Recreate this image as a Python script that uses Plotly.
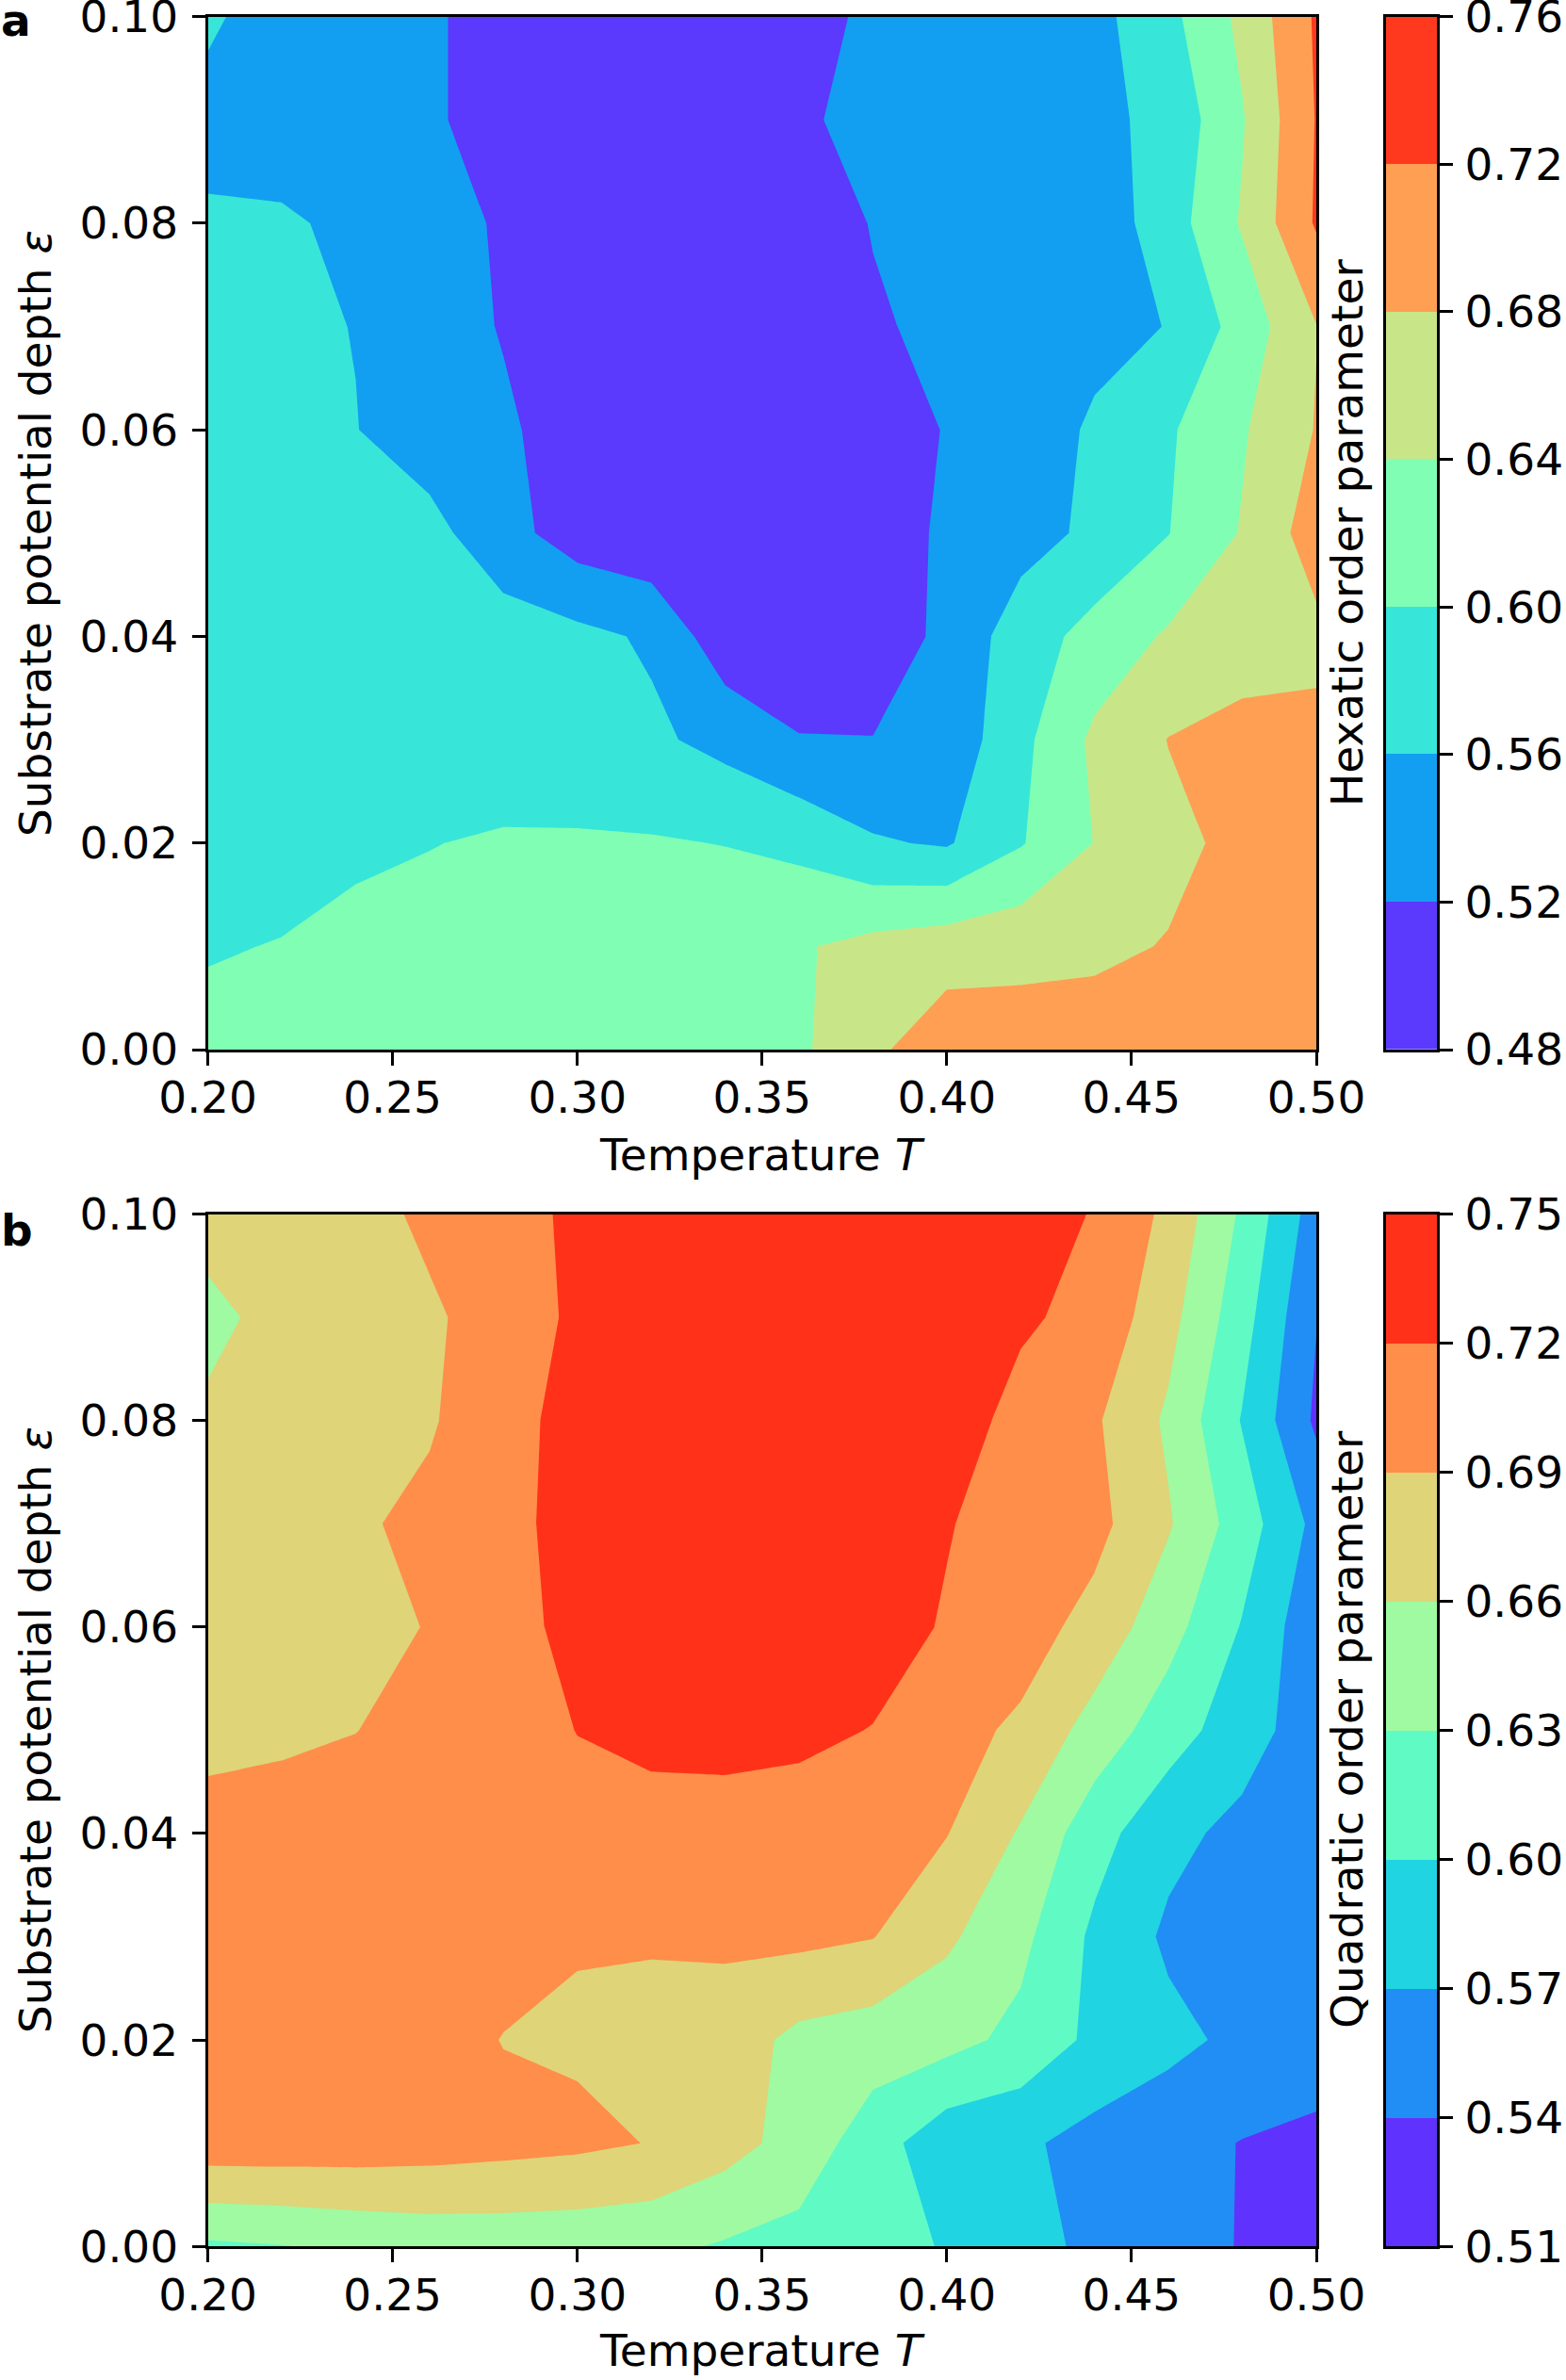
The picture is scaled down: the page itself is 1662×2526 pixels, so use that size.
import plotly.graph_objects as go

# grid: temperature T (columns) and substrate depth eps (rows)
temperature = [0.20, 0.22, 0.24, 0.26, 0.28, 0.30, 0.32, 0.34,
               0.36, 0.38, 0.40, 0.42, 0.44, 0.46, 0.48, 0.50]
epsilon = [0.00, 0.01, 0.02, 0.03, 0.04, 0.05, 0.06, 0.07, 0.08, 0.09, 0.10]

# panel a: hexatic order parameter (one row per epsilon)
hexatic = [
    [0.608, 0.612, 0.618, 0.622, 0.625, 0.628, 0.632, 0.635, 0.633, 0.672, 0.705, 0.700, 0.700, 0.700, 0.700, 0.705],
    [0.598, 0.601, 0.606, 0.612, 0.618, 0.620, 0.622, 0.628, 0.636, 0.652, 0.662, 0.668, 0.672, 0.682, 0.695, 0.700],
    [0.585, 0.590, 0.596, 0.599, 0.604, 0.605, 0.603, 0.599, 0.590, 0.564, 0.556, 0.597, 0.641, 0.670, 0.690, 0.700],
    [0.590, 0.588, 0.585, 0.582, 0.578, 0.570, 0.567, 0.548, 0.522, 0.521, 0.533, 0.589, 0.648, 0.681, 0.690, 0.690],
    [0.588, 0.585, 0.583, 0.580, 0.578, 0.570, 0.555, 0.495, 0.490, 0.495, 0.530, 0.580, 0.614, 0.645, 0.665, 0.670],
    [0.585, 0.580, 0.575, 0.572, 0.535, 0.500, 0.488, 0.482, 0.485, 0.495, 0.528, 0.545, 0.568, 0.599, 0.643, 0.700],
    [0.580, 0.570, 0.561, 0.540, 0.525, 0.505, 0.490, 0.485, 0.488, 0.500, 0.522, 0.540, 0.565, 0.595, 0.636, 0.682],
    [0.575, 0.568, 0.559, 0.535, 0.518, 0.500, 0.488, 0.485, 0.490, 0.515, 0.530, 0.540, 0.550, 0.561, 0.616, 0.679],
    [0.564, 0.565, 0.552, 0.530, 0.517, 0.500, 0.490, 0.488, 0.495, 0.522, 0.535, 0.540, 0.535, 0.581, 0.644, 0.724],
    [0.550, 0.540, 0.535, 0.525, 0.505, 0.490, 0.485, 0.490, 0.515, 0.530, 0.540, 0.545, 0.550, 0.571, 0.637, 0.722],
    [0.565, 0.545, 0.535, 0.525, 0.505, 0.495, 0.490, 0.495, 0.510, 0.525, 0.535, 0.545, 0.548, 0.589, 0.650, 0.725],
]

# panel b: quadratic order parameter
quadratic = [
    [0.625, 0.629, 0.635, 0.640, 0.641, 0.640, 0.637, 0.627, 0.620, 0.605, 0.599, 0.578, 0.565, 0.555, 0.538, 0.525],
    [0.708, 0.708, 0.707, 0.704, 0.700, 0.696, 0.689, 0.672, 0.648, 0.614, 0.580, 0.575, 0.560, 0.550, 0.539, 0.532],
    [0.705, 0.706, 0.706, 0.704, 0.689, 0.686, 0.676, 0.676, 0.652, 0.645, 0.640, 0.622, 0.593, 0.578, 0.563, 0.558],
    [0.705, 0.708, 0.710, 0.708, 0.703, 0.692, 0.694, 0.695, 0.697, 0.691, 0.665, 0.638, 0.594, 0.565, 0.556, 0.552],
    [0.700, 0.702, 0.705, 0.707, 0.709, 0.711, 0.708, 0.707, 0.705, 0.700, 0.691, 0.657, 0.612, 0.578, 0.562, 0.555],
    [0.682, 0.685, 0.6895, 0.700, 0.708, 0.7205, 0.728, 0.730, 0.727, 0.719, 0.700, 0.685, 0.648, 0.614, 0.583, 0.554],
    [0.675, 0.678, 0.683, 0.691, 0.710, 0.728, 0.740, 0.743, 0.742, 0.735, 0.717, 0.703, 0.680, 0.641, 0.598, 0.549],
    [0.675, 0.680, 0.686, 0.697, 0.712, 0.730, 0.740, 0.745, 0.745, 0.742, 0.722, 0.705, 0.699, 0.663, 0.615, 0.562],
    [0.668, 0.676, 0.682, 0.687, 0.710, 0.730, 0.740, 0.745, 0.743, 0.740, 0.734, 0.711, 0.694, 0.655, 0.598, 0.535],
    [0.648, 0.675, 0.677, 0.685, 0.705, 0.725, 0.735, 0.740, 0.740, 0.737, 0.732, 0.724, 0.712, 0.670, 0.612, 0.541],
    [0.678, 0.676, 0.677, 0.697, 0.708, 0.726, 0.735, 0.738, 0.737, 0.735, 0.730, 0.728, 0.719, 0.683, 0.625, 0.555],
]

hex_levels = [0.48, 0.52, 0.56, 0.60, 0.64, 0.68, 0.72, 0.76]
quad_levels = [0.51, 0.54, 0.57, 0.60, 0.63, 0.66, 0.69, 0.72, 0.75]

# rainbow colours of the filled bands
hex_colors = ['#5b39fd', '#129ff1', '#37e6d8', '#80ffb4', '#c8e688', '#ff9f54', '#ff391d']
quad_colors = ['#6032fe', '#208ef4', '#20d4e1', '#60fac5', '#9ffaa2', '#dfd478', '#ff8e4a', '#ff3219']

FONT = "DejaVu Sans"
FS = 47
W, H = 1662, 2526


def contour_scale(levels, colors):
    # plotly fills band k with the colour at level_k + size/2
    n = len(levels)
    scale = [[0.0, colors[0]]]
    for k, c in enumerate(colors):
        scale.append([(k + 1) / n, c])
    scale.append([1.0, colors[-1]])
    return scale


def bar_scale(colors):
    m = len(colors)
    scale = []
    for k, c in enumerate(colors):
        scale += [[k / m, c], [(k + 1) / m, c]]
    return scale


def px_x(x):
    return x / W


def px_y(y):
    return 1 - y / H


fig = go.Figure()

panels = [
    (hexatic, hex_levels, hex_colors, '', '3'),
    (quadratic, quad_levels, quad_colors, '2', '4'),
]
for z, levels, colors, ax, cb in panels:
    size = round(levels[1] - levels[0], 4)
    fig.add_trace(go.Contour(
        x=temperature, y=epsilon, z=z,
        autocontour=False,
        contours=dict(start=levels[0], end=levels[-1], size=size,
                      coloring='fill', showlines=False),
        colorscale=contour_scale(levels, colors),
        line=dict(width=0, smoothing=0),
        showscale=False, hoverinfo='skip',
        xaxis='x' + ax, yaxis='y' + ax,
    ))
    mids = [[(levels[k] + levels[k + 1]) / 2] for k in range(len(levels) - 1)]
    fig.add_trace(go.Heatmap(
        x=[0, 1], y=levels, z=mids,
        zmin=levels[0], zmax=levels[-1],
        colorscale=bar_scale(colors), showscale=False, hoverinfo='skip',
        xaxis='x' + cb, yaxis='y' + cb,
    ))

plot_x = [px_x(220.6), px_x(1397)]
bar_x = [px_x(1471), px_x(1525)]
dom_a = [px_y(1114), px_y(17.6)]
dom_b = [px_y(2384.2), px_y(1288.6)]

common = dict(
    ticks='outside', ticklen=14, tickwidth=3, tickcolor='black',
    showline=True, linewidth=3, linecolor='black', mirror=True,
    showgrid=False, zeroline=False, automargin=False,
    ticklabeloverflow='allow',
    tickfont=dict(family=FONT, size=FS, color='black'),
)

x_main = dict(common, range=[0.2, 0.5], tick0=0.2, dtick=0.05, tickformat='.2f',
              domain=plot_x, ticklabelstandoff=-6)
y_main = dict(common, range=[0, 0.1], tick0=0, dtick=0.02, tickformat='.2f',
              ticklabelstandoff=5)
x_bar = dict(range=[0, 1], showticklabels=False, ticks='', showline=True,
             linewidth=3, linecolor='black', mirror=True, showgrid=False,
             zeroline=False, automargin=False, domain=bar_x, fixedrange=True)

fig.update_layout(
    width=W, height=H,
    margin=dict(l=0, r=0, t=0, b=0, autoexpand=False),
    paper_bgcolor='white', plot_bgcolor='white',
    showlegend=False,
    font=dict(family=FONT, size=FS, color='black'),
    xaxis=dict(x_main, anchor='y'),
    yaxis=dict(y_main, domain=dom_a, anchor='x'),
    xaxis2=dict(x_main, anchor='y2'),
    yaxis2=dict(y_main, domain=dom_b, anchor='x2'),
    xaxis3=dict(x_bar, anchor='y3'),
    yaxis3=dict(common, domain=dom_a, anchor='x3', side='right',
                range=[hex_levels[0], hex_levels[-1]], tickvals=hex_levels,
                tickformat='.2f', ticklabelstandoff=3),
    xaxis4=dict(x_bar, anchor='y4'),
    yaxis4=dict(common, domain=dom_b, anchor='x4', side='right',
                range=[quad_levels[0], quad_levels[-1]], tickvals=quad_levels,
                tickformat='.2f', ticklabelstandoff=3),
)

titles = [
    ('Temperature <i>T</i>', px_x(809), px_y(1225), 0),
    ('Temperature <i>T</i>', px_x(809), px_y(2494), 0),
    ('Substrate potential depth <i>ε</i>', px_x(37), px_y(566), -90),
    ('Substrate potential depth <i>ε</i>', px_x(37), px_y(1836), -90),
    ('Hexatic order parameter', px_x(1429), px_y(566), -90),
    ('Quadratic order parameter', px_x(1429), px_y(1836), -90),
]
for text, x, y, ang in titles:
    fig.add_annotation(text=text, x=x, y=y, xref='paper', yref='paper',
                       xanchor='center', yanchor='middle', textangle=ang,
                       showarrow=False, font=dict(family=FONT, size=FS, color='black'))

for label, y in [('a', px_y(21)), ('b', px_y(1305))]:
    fig.add_annotation(text='<b>%s</b>' % label, x=0, y=y, xref='paper', yref='paper',
                       xanchor='left', yanchor='middle', showarrow=False, borderpad=0,
                       font=dict(family=FONT, size=FS, color='black'))

# drop the browser's default 8px body margin so the figure fills the window exactly
fig.write_html("out.html", config={'displayModeBar': False},
               post_script="document.body.style.margin = '0px';")
